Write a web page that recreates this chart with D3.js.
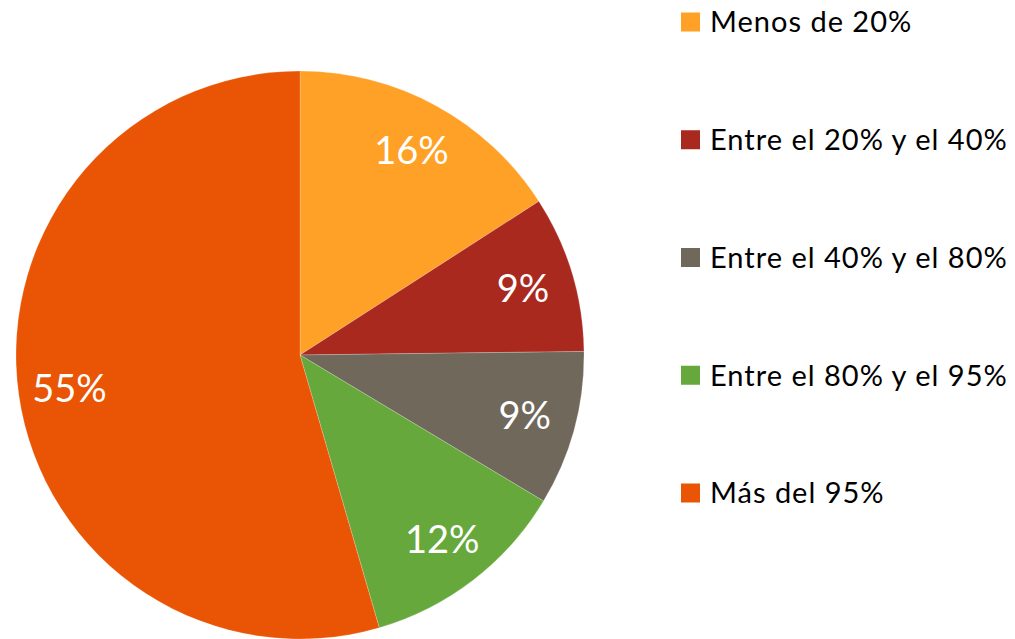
<!DOCTYPE html>
<html><head><meta charset="utf-8">
<script src="https://cdn.jsdelivr.net/npm/d3@7"></script>
<style>html,body{margin:0;padding:0;background:#fff;}</style>
</head><body>
<svg id="chart" width="1015" height="639"></svg>
<script>
const categories = ["Menos de 20%", "Entre el 20% y el 40%", "Entre el 40% y el 80%", "Entre el 80% y el 95%", "Más del 95%"];
const values = [15.9, 8.9, 8.8, 11.9, 54.5];
const labels = ["16%", "9%", "9%", "12%", "55%"];
const colors = ["#FFA126", "#A9291F", "#70685B", "#66A83C", "#E95504"];

const svg = d3.select("#chart");
const cx = 300, cy = 355, r = 284;
const FONT = "Lato, 'Open Sans', sans-serif";

const pie = d3.pie().sort(null).value(d => d.v);
const data = pie(categories.map((c, i) => ({c, v: values[i], l: labels[i], col: colors[i]})));
const arc = d3.arc().innerRadius(0).outerRadius(r);
const labelArc = d3.arc().innerRadius(r * 0.82).outerRadius(r * 0.82);

const g = svg.append("g").attr("transform", `translate(${cx},${cy})`);
g.selectAll("path").data(data).join("path")
  .attr("d", arc).attr("fill", d => d.data.col)
  .attr("stroke", "#fff").attr("stroke-width", 0.4).attr("stroke-opacity", 0.5);

g.selectAll("text").data(data).join("text")
  .attr("transform", d => `translate(${labelArc.centroid(d)})`)
  .attr("text-anchor", "middle").attr("dy", "0.36em")
  .attr("fill", "#fff").attr("font-family", FONT).attr("font-size", 38)
  .text(d => d.data.l);

const legend = svg.append("g");
const ly = d3.scalePoint().domain(categories).range([22, 493]);
const item = legend.selectAll("g").data(data).join("g")
  .attr("transform", d => `translate(681,${ly(d.data.c)})`);
item.append("rect").attr("x", 0).attr("y", -9.5).attr("width", 19).attr("height", 19)
  .attr("fill", d => d.data.col);
item.append("text").attr("x", 29).attr("y", 0).attr("dy", "0.36em")
  .attr("fill", "#000").attr("font-family", FONT).attr("font-size", 29)
  .attr("letter-spacing", 1)
  .text(d => d.data.c);
</script>
</body></html>
